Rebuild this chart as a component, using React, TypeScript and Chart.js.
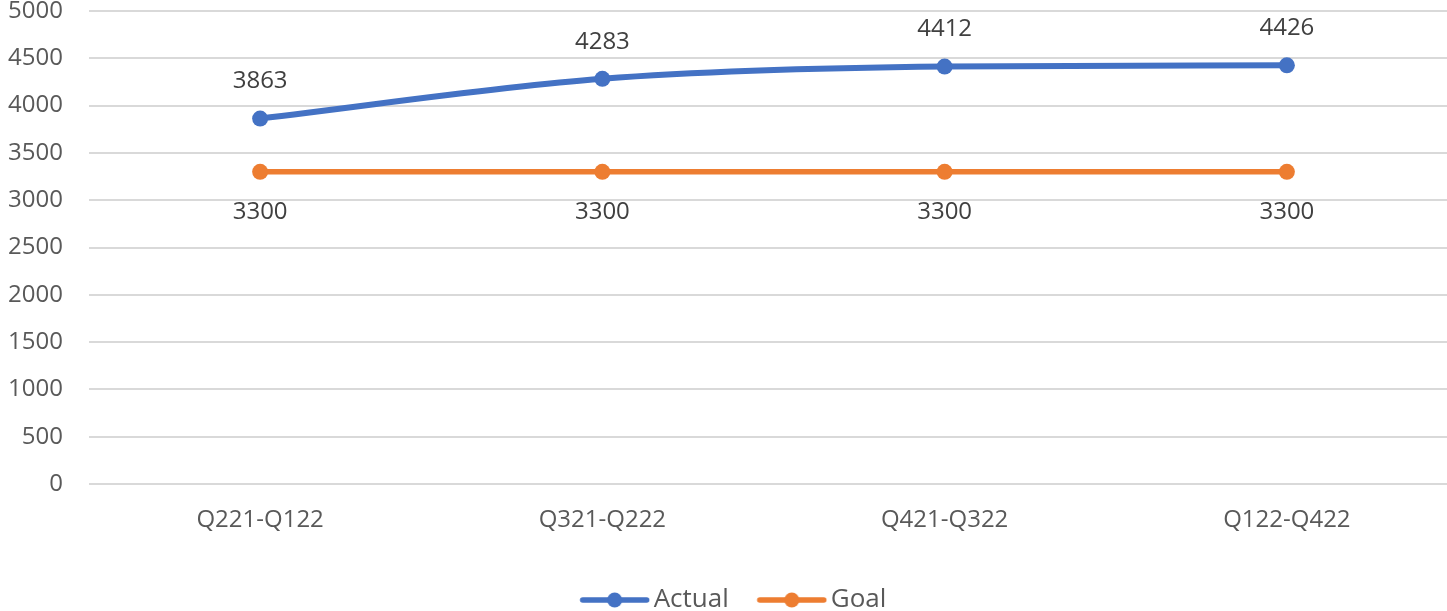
import React, { useEffect, useRef } from "react";
import { Chart, registerables } from "chart.js";

Chart.register(...registerables);

const categories = ["Q221-Q122", "Q321-Q222", "Q421-Q322", "Q122-Q422"];
const actualValues = [3863, 4283, 4412, 4426];
const goalValues = [3300, 3300, 3300, 3300];
const yTicks = [0, 500, 1000, 1500, 2000, 2500, 3000, 3500, 4000, 4500, 5000];

const BLUE = "#4472C4";
const ORANGE = "#ED7D31";
const FONT = "'Open Sans', 'Noto Sans', sans-serif";

// legend icon: line with a dot, drawn into a small canvas used as point style
function makeLegendIcon(color: string): HTMLCanvasElement {
  const c = document.createElement("canvas");
  c.width = 80;
  c.height = 20;
  const ctx = c.getContext("2d")!;
  ctx.strokeStyle = color;
  ctx.lineWidth = 5.5;
  ctx.lineCap = "round";
  ctx.beginPath();
  ctx.moveTo(12.5, 10);
  ctx.lineTo(76.5, 10);
  ctx.stroke();
  ctx.fillStyle = color;
  ctx.beginPath();
  ctx.arc(44.5, 10, 7.5, 0, Math.PI * 2);
  ctx.fill();
  return c;
}

const dataLabelPlugin = {
  id: "dataLabels",
  afterDatasetsDraw(chart: any) {
    const ctx = chart.ctx;
    ctx.save();
    ctx.font = `24px ${FONT}`;
    ctx.fillStyle = "#404040";
    ctx.textAlign = "center";
    ctx.textBaseline = "middle";
    chart.data.datasets.forEach((ds: any, i: number) => {
      const meta = chart.getDatasetMeta(i);
      const off = ds.labelOffset || 0;
      meta.data.forEach((el: any, j: number) => {
        ctx.fillText(String(ds.data[j]), el.x, el.y + off);
      });
    });
    ctx.restore();
  },
};

export default function App() {
  const ref = useRef<HTMLCanvasElement>(null);
  useEffect(() => {
    const icons = [makeLegendIcon(BLUE), makeLegendIcon(ORANGE)];
    const chart = new Chart(ref.current!, {
      type: "line",
      data: {
        labels: categories,
        datasets: [
          {
            label: "Actual",
            data: actualValues,
            borderColor: BLUE,
            backgroundColor: BLUE,
            borderWidth: 6,
            pointRadius: 8,
            pointHoverRadius: 8,
            pointBackgroundColor: BLUE,
            pointBorderWidth: 0,
            tension: 0.3,
            cubicInterpolationMode: "monotone",
            labelOffset: -37,
          } as any,
          {
            label: "Goal",
            data: goalValues,
            borderColor: ORANGE,
            backgroundColor: ORANGE,
            borderWidth: 5.5,
            pointRadius: 8,
            pointHoverRadius: 8,
            pointBackgroundColor: ORANGE,
            pointBorderWidth: 0,
            tension: 0.3,
            labelOffset: 40,
          } as any,
        ],
      },
      options: {
        responsive: false,
        animation: false,
        devicePixelRatio: 1,
        layout: { padding: { top: 11, bottom: -12, left: 0, right: 0 } },
        plugins: {
          tooltip: { enabled: false },
          legend: {
            position: "bottom",
            labels: {
              usePointStyle: true,
              pointStyleWidth: 61,
              color: "#595959",
              font: { family: FONT, size: 26 },
              padding: 28,
              generateLabels: (c: any) =>
                c.data.datasets.map((ds: any, i: number) => ({
                  text: ds.label,
                  fillStyle: ds.borderColor,
                  strokeStyle: ds.borderColor,
                  pointStyle: icons[i],
                  datasetIndex: i,
                  hidden: false,
                  fontColor: "#595959",
                })),
            },
          },
        },
        scales: {
          x: {
            offset: true,
            grid: { display: false, drawTicks: false },
            border: { display: false },
            ticks: {
              color: "#595959",
              font: { family: FONT, size: 24 },
              padding: 22,
            },
            afterFit: (s: any) => {
              s.height = 75;
              s.paddingLeft = 0;
              s.paddingRight = 0;
            },
          },
          y: {
            min: 0,
            max: 5000,
            afterBuildTicks: (s: any) => {
              s.ticks = yTicks.map((v) => ({ value: v }));
            },
            grid: { color: "#D9D9D9", lineWidth: 2, drawTicks: false },
            border: { display: false },
            ticks: {
              color: "#595959",
              font: { family: FONT, size: 24 },
              padding: 26,
              callback: (v: any) => String(v),
            },
            afterFit: (s: any) => {
              s.width = 89;
              s.paddingTop = 0;
              s.paddingBottom = 0;
            },
          },
        },
      },
      plugins: [dataLabelPlugin],
    });
    return () => chart.destroy();
  }, []);
  return (
    <div
      style={{
        position: "fixed",
        left: 0,
        top: 0,
        width: 1447,
        height: 611,
        overflow: "hidden",
        background: "#fff",
      }}
    >
      <canvas ref={ref} width={1466} height={611} style={{ display: "block" }} />
    </div>
  );
}
